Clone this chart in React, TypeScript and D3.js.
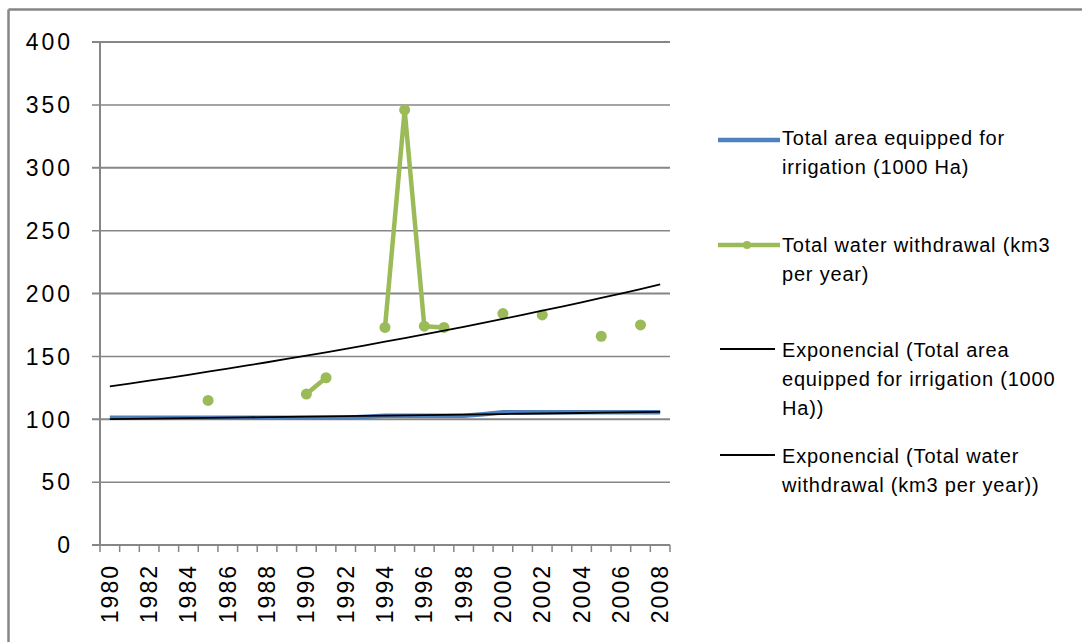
import React from "react";
import * as d3 from "d3";

const years: string[] = [
  "1980","1981","1982","1983","1984","1985","1986","1987","1988","1989",
  "1990","1991","1992","1993","1994","1995","1996","1997","1998","1999",
  "2000","2001","2002","2003","2004","2005","2006","2007","2008",
];

const areaValues: (number | null)[] = [
  101.2,101.2,101.2,101.2,101.2,101.2,101.2,101.2,101.2,101.2,
  101.2,101.2,101.2,102.0,102.8,102.8,102.8,102.8,102.8,104.0,
  105.5,105.5,105.5,105.5,105.5,105.5,105.5,105.5,105.5,
];

const waterValues: (number | null)[] = [
  null,null,null,null,null,115,null,null,null,null,
  120,133,null,null,173,346,174,173,null,null,
  184,null,183,null,null,166,null,175,null,
];

const yTicks: number[] = [0, 50, 100, 150, 200, 250, 300, 350, 400];
const xLabelYears: string[] = [
  "1980","1982","1984","1986","1988","1990","1992","1994","1996","1998",
  "2000","2002","2004","2006","2008",
];

const legendItems = [
  { key: "area", lines: ["Total area equipped for", "irrigation (1000 Ha)"] },
  { key: "water", lines: ["Total water withdrawal (km3", "per year)"] },
  { key: "trendArea", lines: ["Exponencial (Total area", "equipped for irrigation (1000", "Ha))"] },
  { key: "trendWater", lines: ["Exponencial (Total water", "withdrawal (km3 per year))"] },
];

const BLUE = "#4F81BD";
const GREEN = "#9BBB59";
const GRID = "#868686";

function expFit(values: (number | null)[]) {
  const pts = values
    .map((v, i) => (v == null ? null : [i + 1, Math.log(v)]))
    .filter((p) => p != null) as number[][];
  const mx = d3.mean(pts, (p) => p[0]) as number;
  const my = d3.mean(pts, (p) => p[1]) as number;
  const sxy = d3.sum(pts, (p) => (p[0] - mx) * (p[1] - my));
  const sxx = d3.sum(pts, (p) => (p[0] - mx) ** 2);
  const b = sxy / sxx;
  const a = my - b * mx;
  return values.map((_, i) => Math.exp(a + b * (i + 1)));
}

export default function App() {
  const W = 1082, H = 642;
  const left = 100, right = 670, top = 42, bottom = 545;
  const x = d3.scaleBand<string>().domain(years).range([left, right]);
  const y = d3.scaleLinear().domain([0, 400]).range([bottom, top]);
  const cx = (yr: string) => (x(yr) as number) + x.bandwidth() / 2;

  const line = d3
    .line<number | null>()
    .defined((d) => d != null)
    .x((_, i) => cx(years[i]))
    .y((d) => y(d as number));

  const trendA = expFit(areaValues);
  const trendW = expFit(waterValues);
  const tline = d3.line<number>().x((_, i) => cx(years[i])).y((d) => y(d));

  const font = "'Liberation Sans', Arial, sans-serif";
  const boundaries = d3.range(years.length + 1).map((i) => left + i * x.step());

  const legendX = 718, legendTextX = 782;
  const legendY = [138, 245, 350, 456];
  const lh = 29;

  return (
    <svg width={W} height={H} style={{ position: "absolute", left: 0, top: 0, background: "#fff" }}>
      <rect x={0} y={0} width={W} height={H} fill="#fff" />
      {/* border */}
      <line x1={8.5} y1={9.5} x2={W} y2={9.5} stroke={GRID} strokeWidth={2.5} />
      <line x1={8.5} y1={9.5} x2={8.5} y2={H} stroke={GRID} strokeWidth={2.5} />
      {/* gridlines */}
      {yTicks.map((t) => (
        <line key={t} x1={left - 8} x2={right} y1={y(t)} y2={y(t)} stroke={GRID} strokeWidth={t % 100 === 0 ? 2 : 1.5} />
      ))}
      {/* y axis */}
      <line x1={left} x2={left} y1={top} y2={bottom + 1} stroke={GRID} strokeWidth={2} />
      {/* x ticks */}
      {boundaries.map((bx, i) => (
        <line key={i} x1={bx} x2={bx} y1={bottom} y2={bottom + 7} stroke={GRID} strokeWidth={1.5} />
      ))}
      {/* y labels */}
      {yTicks.map((t) => (
        <text key={t} x={73} y={y(t)} dy="0.36em" textAnchor="end" fontFamily={font} fontSize={23} letterSpacing={3} fill="#000">
          {t}
        </text>
      ))}
      {/* x labels */}
      {xLabelYears.map((yr) => (
        <text
          key={yr}
          transform={`translate(${cx(yr) + 8},${564}) rotate(-90)`}
          textAnchor="end"
          fontFamily={font}
          fontSize={23}
          letterSpacing={2}
          fill="#000"
        >
          {yr}
        </text>
      ))}
      {/* area series */}
      <path d={line(areaValues) as string} fill="none" stroke={BLUE} strokeWidth={4.5} strokeLinejoin="round" />
      {/* water series */}
      <path d={line(waterValues) as string} fill="none" stroke={GREEN} strokeWidth={4.5} strokeLinejoin="round" />
      {waterValues.map((v, i) =>
        v == null ? null : <circle key={i} cx={cx(years[i])} cy={y(v)} r={5.5} fill={GREEN} />
      )}
      {/* trend lines */}
      <path d={tline(trendA) as string} fill="none" stroke="#000" strokeWidth={1.8} />
      <path d={tline(trendW) as string} fill="none" stroke="#000" strokeWidth={1.8} />
      {/* legend */}
      {legendItems.map((it, k) => {
        const ly = legendY[k];
        return (
          <g key={it.key}>
            {it.key === "area" && (
              <line x1={legendX} x2={legendX + 62} y1={ly + 2} y2={ly + 2} stroke={BLUE} strokeWidth={4.5} />
            )}
            {it.key === "water" && (
              <g>
                <line x1={legendX} x2={legendX + 62} y1={ly} y2={ly} stroke={GREEN} strokeWidth={4.5} />
                <circle cx={legendX + 29} cy={ly} r={4} fill={GREEN} />
              </g>
            )}
            {(it.key === "trendArea" || it.key === "trendWater") && (
              <line x1={legendX + 2} x2={legendX + 57} y1={ly - 1} y2={ly - 1} stroke="#000" strokeWidth={1.8} />
            )}
            {it.lines.map((s, j) => (
              <text key={j} x={legendTextX} y={ly + j * lh} dy="0.36em" fontFamily={font} fontSize={20} letterSpacing={0.8} fill="#000">
                {s}
              </text>
            ))}
          </g>
        );
      })}
    </svg>
  );
}
